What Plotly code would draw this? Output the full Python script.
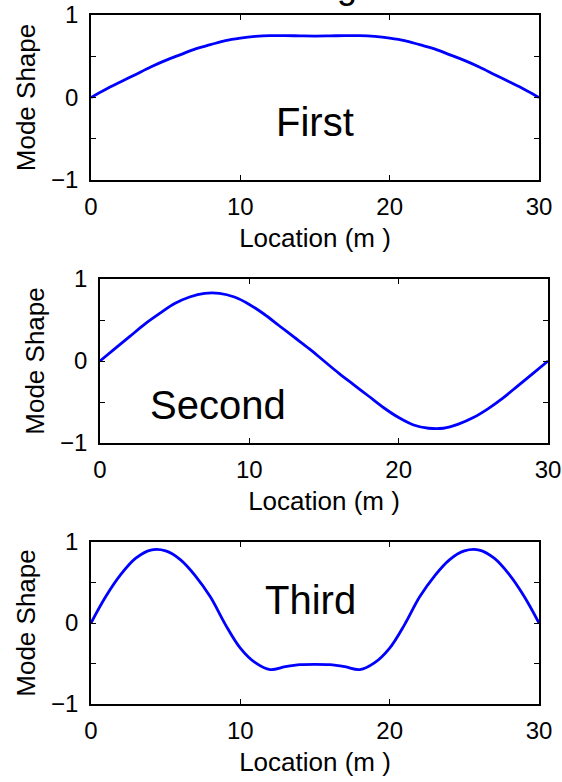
import plotly.graph_objects as go

# ---- data ----
location = [0, 1, 2, 3, 4, 5, 6, 7, 8, 9, 10, 11, 12, 13, 14, 15,
            16, 17, 18, 19, 20, 21, 22, 23, 24, 25, 26, 27, 28, 29, 30]

mode_first = [0.0, 0.10, 0.19, 0.28, 0.37, 0.45, 0.52, 0.59, 0.64, 0.69, 0.72,
              0.74, 0.75, 0.75, 0.747, 0.745, 0.747, 0.75, 0.75, 0.74, 0.72,
              0.69, 0.64, 0.59, 0.52, 0.45, 0.37, 0.28, 0.19, 0.10, 0.0]

mode_second = [0.0, 0.15, 0.30, 0.45, 0.58, 0.70, 0.78, 0.825, 0.825, 0.78, 0.69,
               0.57, 0.43, 0.29, 0.15, 0.0, -0.15, -0.29, -0.43, -0.57, -0.69,
               -0.78, -0.82, -0.82, -0.77, -0.69, -0.58, -0.45, -0.30, -0.15, 0.0]

mode_third = [0.0, 0.33, 0.60, 0.80, 0.90, 0.89, 0.78, 0.58, 0.32, -0.02, -0.31,
              -0.49, -0.575, -0.54, -0.515, -0.51, -0.515, -0.54, -0.575, -0.49, -0.31,
              -0.02, 0.32, 0.58, 0.78, 0.89, 0.90, 0.80, 0.60, 0.33, 0.0]

mode_names = ["First", "Second", "Third"]
label_pos = [(15, -0.30), (7.9, -0.54), (14.7, 0.28)]

x_ticks = [0, 10, 20, 30]
y_ticks = [-1, -0.5, 0, 0.5, 1]
y_ticktext = ["\u22121", "", "0", "", "1"]

W, H = 562, 782
# pixel boxes (left, right, top, bottom)
boxes = [(91, 539, 15, 180), (100, 548, 279, 443), (91, 539, 542, 704)]

FONT = "Liberation Sans, Arial, Helvetica, sans-serif"

fig = go.Figure()
series = [mode_first, mode_second, mode_third]
for i, (ys, box) in enumerate(zip(series, boxes)):
    n = "" if i == 0 else str(i + 1)
    fig.add_trace(go.Scatter(
        x=location, y=ys, mode="lines",
        line=dict(color="#0000ff", width=2.8, shape="spline", smoothing=1.0),
        xaxis="x" + n, yaxis="y" + n, showlegend=False, hoverinfo="skip"))
    l, r, t, b = box
    axcommon = dict(showline=True, linecolor="black", linewidth=1.5, mirror="ticks",
                    ticks="inside", ticklen=5, tickwidth=1, tickcolor="black",
                    showgrid=False, zeroline=False, automargin=False,
                    tickfont=dict(family=FONT, size=24, color="black"))
    fig.update_layout(**{
        "xaxis" + n: dict(domain=[l / W, r / W], range=[0, 30], anchor="y" + n,
                          tickvals=x_ticks, ticktext=[str(v) for v in x_ticks],
                          title=dict(text="Location (m )", standoff=10,
                                     font=dict(family=FONT, size=26, color="black")),
                          ticklabelstandoff=4,
                          **axcommon),
        "yaxis" + n: dict(domain=[1 - b / H, 1 - t / H], range=[-1, 1], anchor="x" + n,
                          tickvals=y_ticks, ticktext=y_ticktext,
                          title=dict(text="Mode Shape", standoff=8,
                                     font=dict(family=FONT, size=26, color="black")),
                          ticklabelstandoff=6,
                          **axcommon),
    })
    lx, ly = label_pos[i]
    fig.add_annotation(x=lx, y=ly, xref="x" + n, yref="y" + n, text=mode_names[i],
                       showarrow=False, xanchor="center", yanchor="middle",
                       font=dict(family=FONT, size=40, color="black"))

# partially visible figure title (cut off at top of image)
fig.add_annotation(x=271 / W, y=1.0185, xref="paper", yref="paper", text="Bridge",
                   showarrow=False, xanchor="left", yanchor="middle",
                   font=dict(family=FONT, size=36, color="black"))

fig.update_layout(template="none", width=W, height=H,
                  margin=dict(l=0, r=0, t=0, b=0, autoexpand=False),
                  paper_bgcolor="white", plot_bgcolor="white")

fig.write_html("out.html", config={"displayModeBar": False},
               post_script="document.body.style.margin='0px';"
                           "document.body.style.overflow='hidden';")
